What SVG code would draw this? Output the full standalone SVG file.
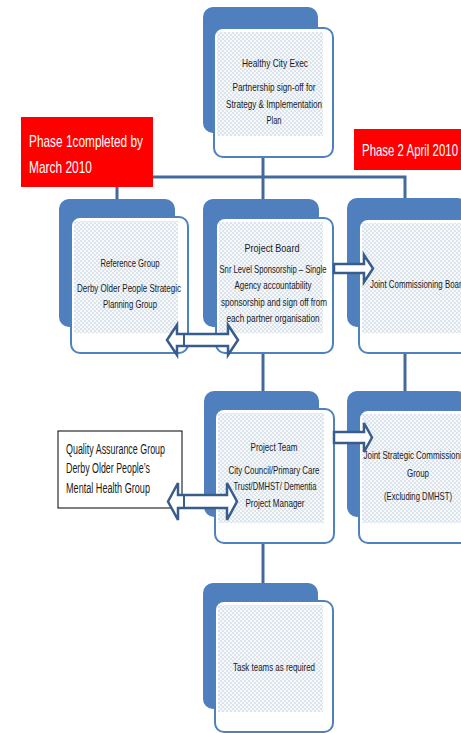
<svg xmlns="http://www.w3.org/2000/svg" width="461" height="733" viewBox="0 0 461 733">
<defs>
<pattern id="dots" width="4" height="4" patternUnits="userSpaceOnUse">
<rect width="4" height="4" fill="#f6f8fa"/>
<circle cx="1" cy="1" r="0.75" fill="#b3c4db"/>
<circle cx="3" cy="3" r="0.75" fill="#b3c4db"/>
</pattern>
<style>
.back{fill:#4f7fbc}
.front{fill:#fff;stroke:#4f81bd;stroke-width:2}
.pat{fill:url(#dots)}
.conn{stroke:#44699c;stroke-width:3;fill:none}
.arrow{fill:#fff;stroke:#385d8a;stroke-width:2.5;stroke-linejoin:miter}
.arrline{stroke:#385d8a;stroke-width:2}
text{font-family:"Liberation Sans",Arial,sans-serif;fill:#1a1a1a;font-size:11.5px}
.c{text-anchor:middle}
.qa{font-size:14px}
.red{fill:#ff0000}
.rt{fill:#fff;font-size:17px}
</style>
</defs>

<g id="connectors">
<path class="conn" d="M117,199 V177 H405 V198"/>
<path class="conn" d="M263,157 V199"/>
<path class="conn" d="M263,353 V391"/>
<path class="conn" d="M405,353 V391"/>
<path class="conn" d="M263,543 V583"/>
</g>

<g id="phase1">
<rect class="red" x="21" y="117" width="132" height="70"/>
<text class="rt" x="29" y="147" textLength="114" lengthAdjust="spacingAndGlyphs">Phase 1completed by</text>
<text class="rt" x="29" y="173" textLength="63" lengthAdjust="spacingAndGlyphs">March 2010</text>
</g>

<g id="phase2">
<rect class="red" x="354" y="129" width="110" height="41"/>
<text class="rt" x="362" y="156" textLength="96" lengthAdjust="spacingAndGlyphs">Phase 2 April 2010</text>
</g>

<g id="exec">
<rect class="back" x="203" y="7" width="115" height="126" rx="10"/>
<rect class="front" x="214" y="28" width="119" height="129" rx="9"/>
<rect class="pat" x="217" y="32" width="106" height="104"/>
<text class="c" x="275" y="67" textLength="66" lengthAdjust="spacingAndGlyphs">Healthy City Exec</text>
<text class="c" x="274" y="91" textLength="83" lengthAdjust="spacingAndGlyphs">Partnership sign-off for</text>
<text class="c" x="274" y="108" textLength="96" lengthAdjust="spacingAndGlyphs">Strategy &amp; Implementation</text>
<text class="c" x="274" y="124" textLength="15" lengthAdjust="spacingAndGlyphs">Plan</text>
</g>

<g id="reference">
<rect class="back" x="59" y="199" width="116" height="128" rx="10"/>
<rect class="front" x="71" y="217" width="117" height="136" rx="9"/>
<rect class="pat" x="74" y="221" width="104" height="112"/>
<text class="c" x="130" y="267" textLength="59" lengthAdjust="spacingAndGlyphs">Reference Group</text>
<text class="c" x="129" y="292" textLength="104" lengthAdjust="spacingAndGlyphs">Derby Older People Strategic</text>
<text class="c" x="130" y="308" textLength="54" lengthAdjust="spacingAndGlyphs">Planning Group</text>
</g>

<g id="board">
<rect class="back" x="203" y="199" width="116" height="128" rx="10"/>
<rect class="front" x="216" y="218" width="117" height="135" rx="9"/>
<rect class="pat" x="219" y="222" width="104" height="111"/>
<text class="c" x="272" y="252" textLength="55" lengthAdjust="spacingAndGlyphs">Project Board</text>
<text class="c" x="273" y="273" textLength="107" lengthAdjust="spacingAndGlyphs">Snr Level Sponsorship – Single</text>
<text class="c" x="273" y="289" textLength="77" lengthAdjust="spacingAndGlyphs">Agency accountability</text>
<text class="c" x="274" y="306" textLength="106" lengthAdjust="spacingAndGlyphs">sponsorship and sign off from</text>
<text class="c" x="273" y="322" textLength="93" lengthAdjust="spacingAndGlyphs">each partner organisation</text>
</g>

<g id="jcb">
<rect class="back" x="347" y="198" width="120" height="129" rx="10"/>
<rect class="front" x="359" y="219" width="118" height="134" rx="9"/>
<rect class="pat" x="362" y="223" width="105" height="110"/>
<text x="370" y="288" textLength="96" lengthAdjust="spacingAndGlyphs">Joint Commissioning Board</text>
</g>

<g id="team">
<rect class="back" x="204" y="391" width="115" height="126" rx="10"/>
<rect class="front" x="215" y="409" width="119" height="134" rx="9"/>
<rect class="pat" x="218" y="413" width="106" height="110"/>
<text class="c" x="274" y="451" textLength="47" lengthAdjust="spacingAndGlyphs">Project Team</text>
<text class="c" x="274" y="474" textLength="91" lengthAdjust="spacingAndGlyphs">City Council/Primary Care</text>
<text class="c" x="275" y="490" textLength="83" lengthAdjust="spacingAndGlyphs">Trust/DMHST/ Dementia</text>
<text class="c" x="275" y="507" textLength="59" lengthAdjust="spacingAndGlyphs">Project Manager</text>
</g>

<g id="qa">
<rect x="58" y="431" width="124" height="77" fill="#fff" stroke="#000" stroke-width="1"/>
<text class="qa" x="66" y="454" textLength="99" lengthAdjust="spacingAndGlyphs">Quality Assurance Group</text>
<text class="qa" x="66" y="473" textLength="84" lengthAdjust="spacingAndGlyphs">Derby Older People’s</text>
<text class="qa" x="66" y="493" textLength="84" lengthAdjust="spacingAndGlyphs">Mental Health Group</text>
</g>

<g id="jscg">
<rect class="back" x="347" y="391" width="120" height="126" rx="10"/>
<rect class="front" x="359" y="410" width="118" height="133" rx="9"/>
<rect class="pat" x="362" y="414" width="105" height="109"/>
<text class="c" x="417" y="459" textLength="107" lengthAdjust="spacingAndGlyphs">Joint Strategic Commissioning</text>
<text class="c" x="418" y="477" textLength="22" lengthAdjust="spacingAndGlyphs">Group</text>
<text class="c" x="418" y="500" textLength="68" lengthAdjust="spacingAndGlyphs">(Excluding DMHST)</text>
</g>

<g id="task">
<rect class="back" x="203" y="583" width="115" height="126" rx="10"/>
<rect class="front" x="215" y="601" width="118" height="131" rx="9"/>
<rect class="pat" x="218" y="605" width="105" height="107"/>
<text class="c" x="274" y="671" textLength="82" lengthAdjust="spacingAndGlyphs">Task teams as required</text>
</g>

<g id="arrows">
<polygon class="arrow" points="334,264 364,264 364,255 373,268.5 364,282 364,273 334,273"/>
<polygon class="arrow" points="334,432 364,432 364,423 372,437.5 364,452 364,443 334,443"/>
<polygon class="arrow" points="167,340 177,325 177,334 228,334 228,325 238,340 228,355 228,346 177,346 177,355"/>
<line class="arrline" x1="184" y1="334" x2="184" y2="346"/>
<polygon class="arrow" points="168,501.5 178,483 178,495 227,495 227,483 237,501.5 227,520 227,508 178,508 178,520"/>
<line class="arrline" x1="184" y1="495" x2="184" y2="508"/>
</g>
</svg>
